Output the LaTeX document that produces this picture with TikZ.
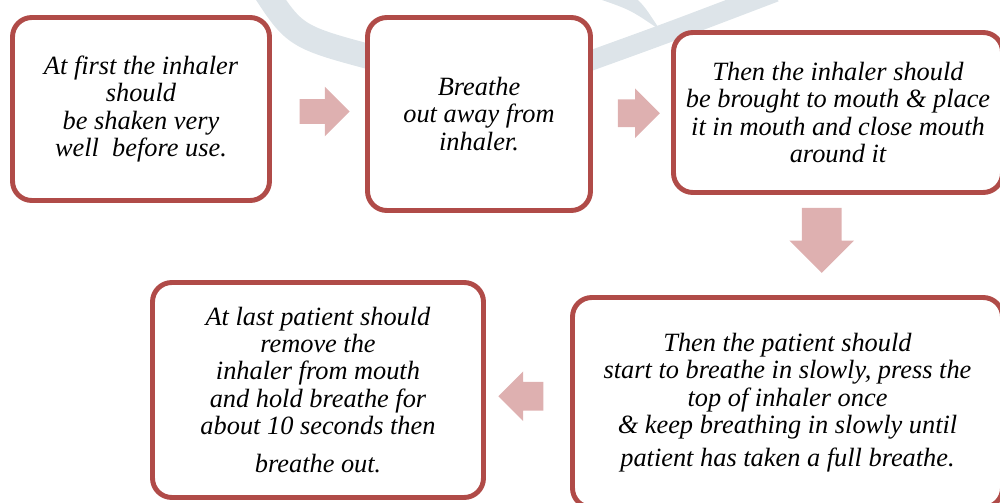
\documentclass[tikz,border=0pt]{standalone}
\usepackage{fontspec}
\setmainfont{Liberation Serif}
\usetikzlibrary{positioning, shapes.arrows, calc}
\definecolor{boxred}{RGB}{176,75,72}
\definecolor{arrowpink}{RGB}{222,176,176}
\definecolor{markgray}{RGB}{221,228,233}
\tikzset{
  stepbox/.style={draw=boxred, line width=2.8pt, rounded corners=11pt, fill=white,
                  align=center, font=\itshape\fontsize{15}{15.6}\selectfont},
  flowarrow/.style={single arrow, fill=arrowpink, draw=none, inner xsep=0pt},
  watermark/.style={markgray, line width=0.5cm}
}

\begin{document}
\begin{tikzpicture}
    \useasboundingbox (0,0) rectangle (20,10.04);
    % faint logo behind the boxes
    \draw[watermark] (5.25,10.3) .. controls (5.9,9.3) .. (7.6,8.85);
    \draw[watermark, line width=0.4cm] (11.6,8.75) .. controls (13.4,9.4) .. (15.5,10.2);
    \fill[markgray] (11.86,10.1) .. controls (12.6,9.85) .. (13.2,9.44)
                    .. controls (12.9,9.9) .. (12.7,10.1) -- cycle;
    % steps
    \node[stepbox, minimum width=5.14cm, minimum height=3.66cm] (s1) at (2.82, 7.86)
        {At first the inhaler\\ should\\ be shaken very\\ well~ before use.};
    \node[stepbox, minimum width=4.46cm, minimum height=3.86cm] (s2) at (9.58, 7.76)
        {Breathe\\ out away from\\ inhaler.};
    \node[stepbox, minimum width=6.58cm, minimum height=3.2cm] (s3) at (16.76, 7.79)
        {Then the inhaler should\\ be brought to mouth \& place\\ it in mouth and close mouth\\ around it};
    \node[stepbox, minimum width=8.6cm, minimum height=4.2cm] (s4) at (15.75, 1.99)
        {Then the patient should\\ start to breathe in slowly, press the\\ top of inhaler once\\
         \& keep breathing in slowly until\\[3pt] patient has taken a full breathe.};
    \node[stepbox, minimum width=6.62cm, minimum height=4.3cm] (s5) at (6.36, 2.24)
        {At last patient should\\ remove the\\ inhaler from mouth\\ and hold breathe for\\
         about 10 seconds then\\[6pt] breathe out{\Large.}};
    % arrows between steps
    \node[flowarrow, minimum height=1.0cm, inner ysep=0.24cm, single arrow head extend=0.25cm]
        (a12) at ($(s1.east)!0.5!(s2.west)$) {};
    \node[flowarrow, minimum height=0.84cm, inner ysep=0.27cm, single arrow head extend=0.22cm]
        (a23) at ($(s2.east)!0.5!(s3.west)$) {};
    \node[flowarrow, minimum height=1.3cm, inner xsep=0.39cm, inner ysep=0pt, single arrow head extend=0.25cm,
          shape border rotate=270] (a34) at ($(s3.south)!0.5!(s4.north)+(0.18,0.29)$) {};
    \node[flowarrow, minimum height=0.9cm, inner ysep=0.28cm, single arrow head extend=0.21cm,
          shape border rotate=180] (a45) at ($(s5.east)!0.5!(s4.west)$) {};
\end{tikzpicture}
\end{document}
